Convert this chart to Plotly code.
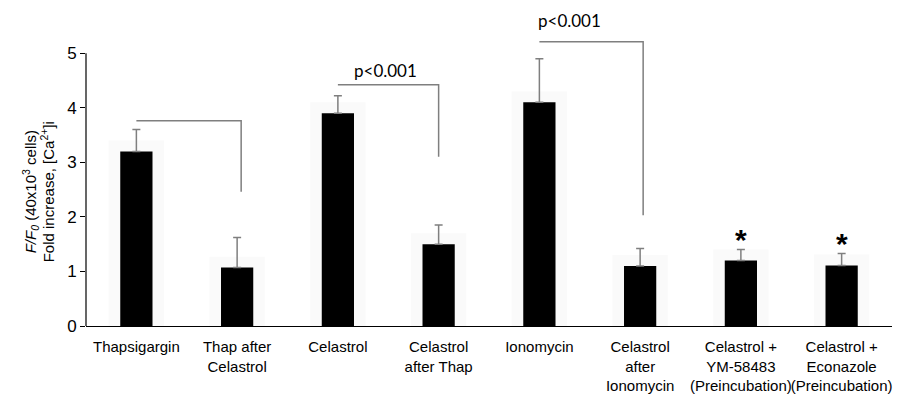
import plotly.graph_objects as go

categories = ["Thapsigargin", "Thap after<br>Celastrol", "Celastrol", "Celastrol<br>after Thap",
              "Ionomycin", "Celastrol<br>after<br>Ionomycin", "Celastrol +<br>YM-58483<br>(Preincubation)",
              "Celastrol +<br>Econazole<br>(Preincubation)"]
values = [3.2, 1.07, 3.9, 1.5, 4.1, 1.1, 1.2, 1.11]
errors = [0.4, 0.55, 0.32, 0.35, 0.8, 0.32, 0.2, 0.22]
y_ticks = [0, 1, 2, 3, 4, 5]
y_title_lines = ["<i>F/F<sub>0</sub></i> (40x10<sup>3</sup> cells)", "Fold increase, [Ca<sup>2+</sup>]i"]

# significance brackets: (start index, end index, bar height, drop-to height, label)
brackets = [(0, 1.04, 3.76, 2.46, ""), (2, 3.0, 4.42, 3.10, "p<0.001"), (4, 5.03, 5.21, 2.03, "p<0.001")]
label_pos = [(None, None), (2.47, 4.68), (4.30, 5.60)]
star_idx = [6, 7]

xs = list(range(len(categories)))

fig = go.Figure()
# faint halo behind bars
fig.add_trace(go.Bar(x=xs, y=[v + 0.2 for v in values], width=0.55,
                     marker=dict(color="#fafafa", line=dict(width=0)), hoverinfo="skip"))
fig.add_trace(go.Bar(x=xs, y=values, width=0.32,
                     marker=dict(color="black", line=dict(width=0)),
                     error_y=dict(type="data", symmetric=False, array=errors,
                                  arrayminus=[0] * len(errors),
                                  color="#7f7f7f", thickness=1.5, width=4)))

for (a, b, top, drop, lab) in brackets:
    fig.add_shape(type="path", path=f"M {a} {top} L {b} {top} L {b} {drop}",
                  xref="x", yref="y", line=dict(color="#7f7f7f", width=1.5))
for (lx, ly), br in zip(label_pos, brackets):
    if lx is not None:
        fig.add_annotation(x=lx, y=ly, text=br[4], showarrow=False, xref="x", yref="y",
                           font=dict(family="Lato", size=17, color="black"))
for i in star_idx:
    fig.add_annotation(x=i, y=values[i] + errors[i] - 0.16, text="<b>*</b>", showarrow=False,
                       yanchor="bottom", xref="x", yref="y",
                       font=dict(family="Liberation Sans", size=30, color="black"))

# y axis line from 0 to 5
fig.add_shape(type="line", xref="paper", yref="y", x0=0, x1=0, y0=0, y1=5,
              line=dict(color="black", width=1.2))

# y axis title (two lines, set close together)
for k, line in enumerate(y_title_lines):
    fig.add_annotation(xref="paper", yref="y", x=(30 + 17 * k - 86) / 806, y=2.45, textangle=-90,
                       showarrow=False, xanchor="center", yanchor="middle",
                       text=line, font=dict(family="Liberation Sans", size=15, color="black"))

fig.update_layout(
    width=921, height=394,
    margin=dict(l=86, r=29, t=15, b=68),
    paper_bgcolor="white", plot_bgcolor="white",
    barmode="overlay", showlegend=False,
    font=dict(family="Liberation Sans", size=15, color="black"),
)
fig.update_xaxes(range=[-0.5, 7.5], tickvals=xs, ticktext=categories, tickangle=0,
                 automargin=False, ticklabelstandoff=7,
                 showline=True, linecolor="black", linewidth=1.2, ticks="",
                 showgrid=False, zeroline=False, tickfont=dict(size=15))
fig.update_yaxes(range=[0, 5.7], tickvals=y_ticks, showline=False, ticks="outside",
                 automargin=False,
                 ticklen=5, tickcolor="black", tickwidth=1.2, showgrid=False, zeroline=False,
                 tickfont=dict(size=17))

fig.write_html("out.html")
